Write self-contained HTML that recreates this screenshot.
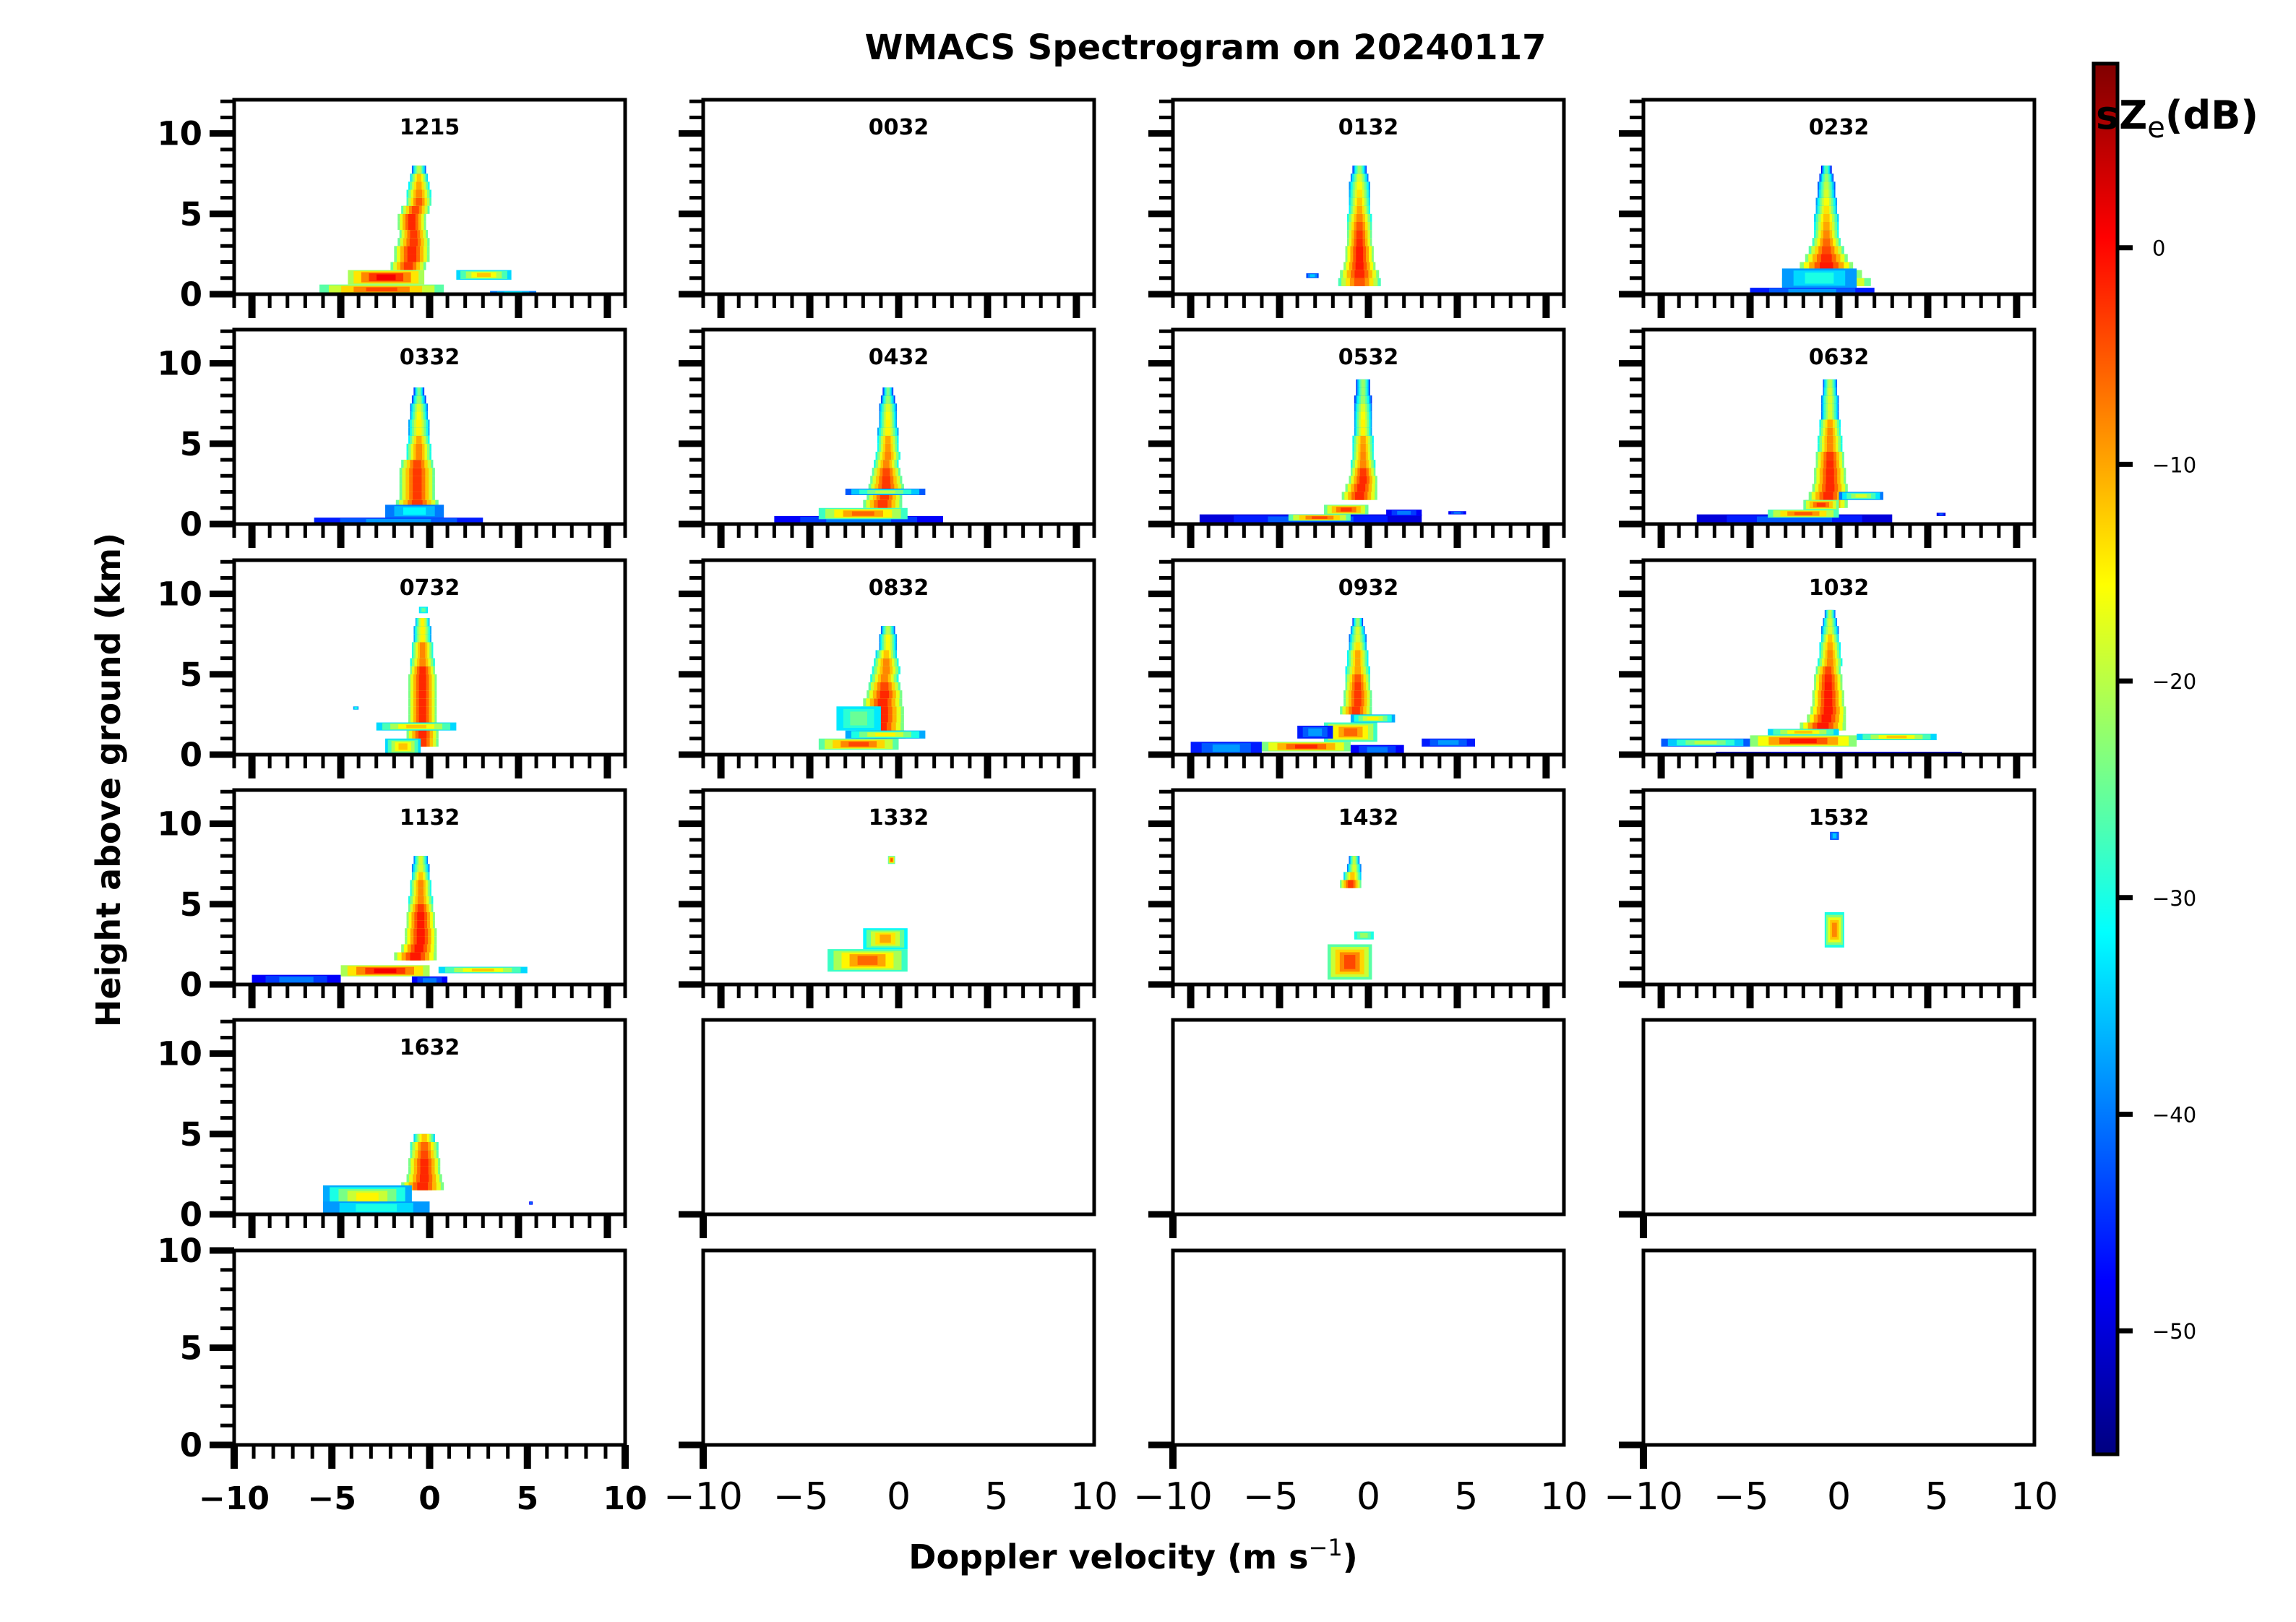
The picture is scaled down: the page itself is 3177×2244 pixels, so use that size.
<!DOCTYPE html>
<html><head><meta charset="utf-8"><style>
html,body{margin:0;padding:0;background:#fff;}
svg{display:block;font-family:"DejaVu Sans","Liberation Sans",sans-serif;}
</style></head><body>
<svg id="fig" xmlns="http://www.w3.org/2000/svg" width="3177" height="2244" viewBox="0 0 3177 2244">
<rect width="3177" height="2244" fill="#fff"/>
<text x="1668" y="82" text-anchor="middle" font-size="48" font-weight="bold">WMACS Spectrogram on 20240117</text>
<text transform="translate(166,1079) rotate(-90)" text-anchor="middle" font-size="46" font-weight="bold">Height above ground (km)</text>
<text x="1568" y="2170" text-anchor="middle" font-size="46" font-weight="bold">Doppler velocity (m s<tspan dy="-18" font-size="32" font-weight="normal">−1</tspan><tspan dy="18">)</tspan></text>
<g id="panels"></g>
<g id="cbar"></g>
</svg>
<script>
// ---- data ----
const panelTitles = ["1215","0032","0132","0232","0332","0432","0532","0632","0732","0832","0932","1032","1132","1332","1432","1532","1632"];
// column cells: [height_km, velocity, width, peak_dB]
const columns = [
 [[1.5,-1.2,1.0,-3],[2,-1.0,1.0,-2],[2.5,-1.0,1.0,-2],[3,-0.9,0.9,-3],[3.5,-0.9,0.8,-3],[4,-1.0,0.8,-2],[4.5,-1.0,0.8,-2],[5,-0.8,0.8,-4],[5.5,-0.6,0.7,-5],[6,-0.6,0.7,-8],[6.5,-0.6,0.6,-10],[7,-0.6,0.5,-12],[7.5,-0.6,0.4,-20]],
 [],
 [[0.5,-0.5,1.2,-5],[1,-0.5,1.1,-2],[1.5,-0.5,0.9,-1],[2,-0.5,0.8,-1],[2.5,-0.5,0.8,-1],[3,-0.5,0.7,-2],[3.5,-0.5,0.7,-3],[4,-0.5,0.7,-5],[4.5,-0.5,0.7,-8],[5,-0.5,0.6,-10],[5.5,-0.5,0.6,-12],[6,-0.5,0.6,-14],[6.5,-0.5,0.6,-16],[7,-0.5,0.5,-18],[7.5,-0.5,0.4,-22]],
 [[0.5,-0.7,2.5,-3],[1,-0.7,2.0,-1],[1.5,-0.7,1.5,-1],[2,-0.7,1.2,-2],[2.5,-0.7,1.0,-4],[3,-0.7,0.8,-6],[3.5,-0.7,0.7,-8],[4,-0.7,0.7,-10],[4.5,-0.7,0.7,-12],[5,-0.7,0.6,-14],[5.5,-0.7,0.6,-16],[6,-0.7,0.5,-18],[6.5,-0.7,0.5,-20],[7,-0.7,0.4,-22],[7.5,-0.7,0.3,-26]],
 [[0.5,-0.7,1.4,-3],[1,-0.7,1.2,-3],[1.5,-0.7,1.0,-3],[2,-0.7,1.0,-3],[2.5,-0.7,1.0,-3],[3,-0.7,1.0,-3],[3.5,-0.7,0.9,-4],[4,-0.6,0.7,-8],[4.5,-0.6,0.7,-8],[5,-0.6,0.6,-10],[5.5,-0.6,0.6,-15],[6,-0.6,0.6,-15],[6.5,-0.6,0.5,-16],[7,-0.6,0.5,-18],[7.5,-0.6,0.4,-22],[8,-0.6,0.3,-24]],
 [[1,-0.9,1.1,-3],[1.5,-0.8,1.0,-3],[2,-0.7,1.0,-3],[2.5,-0.7,0.9,-3],[3,-0.7,0.8,-4],[3.5,-0.7,0.7,-8],[4,-0.6,0.7,-8],[4.5,-0.6,0.6,-9],[5,-0.6,0.6,-10],[5.5,-0.6,0.6,-15],[6,-0.6,0.5,-15],[6.5,-0.6,0.5,-16],[7,-0.6,0.5,-18],[7.5,-0.6,0.4,-22],[8,-0.6,0.3,-24]],
 [[1.5,-0.5,1.0,-2],[2,-0.4,0.9,-2],[2.5,-0.3,0.8,-2],[3,-0.3,0.7,-3],[3.5,-0.3,0.7,-8],[4,-0.3,0.6,-8],[4.5,-0.3,0.6,-9],[5,-0.3,0.6,-10],[5.5,-0.3,0.5,-15],[6,-0.3,0.5,-15],[6.5,-0.3,0.5,-16],[7,-0.3,0.5,-18],[7.5,-0.3,0.5,-22],[8,-0.3,0.4,-22],[8.5,-0.3,0.4,-22]],
 [[1,-0.7,1.2,-2],[1.5,-0.6,1.1,-2],[2,-0.5,1.0,-2],[2.5,-0.5,0.9,-2],[3,-0.5,0.9,-2],[3.5,-0.5,0.8,-2],[4,-0.5,0.8,-3],[4.5,-0.5,0.7,-8],[5,-0.5,0.7,-8],[5.5,-0.5,0.6,-8],[6,-0.5,0.6,-10],[6.5,-0.5,0.5,-18],[7,-0.5,0.5,-18],[7.5,-0.5,0.5,-18],[8,-0.5,0.4,-18],[8.5,-0.5,0.4,-20]],
 [[0.5,-0.4,0.9,-3],[1,-0.4,0.9,-2],[1.5,-0.4,0.9,-2],[2,-0.4,0.8,-2],[2.5,-0.4,0.8,-2],[3,-0.4,0.8,-2],[3.5,-0.4,0.8,-2],[4,-0.4,0.8,-2],[4.5,-0.4,0.8,-2],[5,-0.4,0.7,-2],[5.5,-0.4,0.7,-8],[6,-0.4,0.6,-8],[6.5,-0.4,0.6,-8],[7,-0.4,0.5,-15],[7.5,-0.4,0.5,-15],[8,-0.4,0.4,-15]],
 [[1,-1.0,1.4,-2],[1.5,-1.0,1.3,-2],[2,-0.9,1.2,-2],[2.5,-0.9,1.2,-2],[3,-0.9,1.1,-2],[3.5,-0.8,1.0,-2],[4,-0.8,0.9,-4],[4.5,-0.8,0.8,-8],[5,-0.7,0.8,-8],[5.5,-0.7,0.7,-8],[6,-0.7,0.6,-12],[6.5,-0.6,0.5,-16],[7,-0.6,0.5,-16],[7.5,-0.6,0.4,-20]],
 [[2.5,-0.7,0.9,-3],[3,-0.6,0.8,-3],[3.5,-0.6,0.8,-3],[4,-0.6,0.7,-3],[4.5,-0.6,0.7,-5],[5,-0.6,0.7,-10],[5.5,-0.6,0.6,-10],[6,-0.6,0.6,-10],[6.5,-0.6,0.5,-14],[7,-0.6,0.5,-18],[7.5,-0.6,0.4,-18],[8,-0.6,0.3,-22]],
 [[1.5,-0.9,1.3,-1],[2,-0.7,1.1,-1],[2.5,-0.6,1.0,-1],[3,-0.6,0.9,-1],[3.5,-0.6,0.9,-1],[4,-0.6,0.8,-1],[4.5,-0.6,0.8,-2],[5,-0.6,0.7,-4],[5.5,-0.5,0.7,-8],[6,-0.5,0.6,-8],[6.5,-0.5,0.6,-10],[7,-0.5,0.5,-12],[7.5,-0.5,0.5,-18],[8,-0.5,0.4,-18],[8.5,-0.5,0.3,-20]],
 [[1.5,-0.8,1.2,-1],[2,-0.6,1.0,-1],[2.5,-0.5,0.9,-1],[3,-0.5,0.9,-1],[3.5,-0.5,0.8,-1],[4,-0.5,0.8,-1],[4.5,-0.5,0.7,-3],[5,-0.5,0.7,-8],[5.5,-0.5,0.6,-8],[6,-0.5,0.6,-8],[6.5,-0.5,0.5,-12],[7,-0.5,0.5,-18],[7.5,-0.5,0.4,-18]],
 [],
 [[6,-1.0,0.6,-3],[6.5,-0.9,0.5,-12],[7,-0.8,0.4,-18],[7.5,-0.8,0.3,-20]],
 [],
 [[1.5,-0.4,1.2,-2],[2,-0.3,1.0,-2],[2.5,-0.3,0.9,-2],[3,-0.3,0.9,-2],[3.5,-0.3,0.8,-4],[4,-0.3,0.8,-6],[4.5,-0.3,0.6,-12]]
];
// bands: [h0, h1, v0, v1, peak_dB]
const bands = [
 [[0,0.6,-6.2,0.8,-4],[0.6,1.5,-4.6,-0.3,1],[0.9,1.5,1.5,4.6,-12],[0,0.2,3.4,6,-32]],
 [],
 [[1.0,1.3,-3.5,-2.8,-35]],
 [[0,0.4,-5,2,-38],[0.4,1.6,-3.2,1.0,-30]],
 [[0,0.4,-6.5,3,-38],[0.4,1.2,-2.5,0.8,-32]],
 [[0,0.5,-7,2.5,-40],[0.3,1,-4.5,0.5,-6],[1.8,2.2,-3,1.5,-20]],
 [[0,0.6,-9.5,3,-42],[0.2,0.6,-4.5,-1,-4],[0.6,1.2,-2.5,0,-3],[0.5,0.9,1,3,-40],[0.6,0.8,4.5,5.5,-40]],
 [[0,0.6,-8,3,-42],[0.4,0.9,-4,0,-5],[0.9,1.5,-2,0,-3],[1.5,2,0,2.5,-18],[0.5,0.7,5.5,6,-42]],
 [[0,1,-2.5,-0.5,-12],[1.5,2,-3,1.5,-12],[8.8,9.2,-0.6,-0.1,-25],[2.8,3,-4.3,-4,-30]],
 [[0.3,1,-4.5,0,-4],[1,1.5,-3,1.5,-15],[1.5,3,-3.5,-1,-25]],
 [[0,0.8,-10,-6,-38],[0.2,0.8,-6,-1,-2],[0.8,2,-2.5,0.5,-6],[0,0.6,-1,2,-40],[0.5,1,3,6,-38],[1,1.8,-4,-2,-38],[2,2.5,-1,1.5,-15]],
 [[0.5,1,-10,-5,-20],[0.5,1.2,-5,1,-1],[0.9,1.3,1,5.5,-12],[1.2,1.6,-4,0,-12],[0,0.2,-10,10,-48]],
 [[0,0.6,-10,-5,-40],[0.5,1.2,-5,0,1],[0.7,1.1,0.5,5.5,-12],[0,0.5,-1,1,-40]],
 [[7.5,8,-0.6,-0.2,-5],[0.8,2.2,-4,0.5,-6],[2.2,3.5,-2,0.5,-10]],
 [[0.3,2.5,-2.3,0.2,-4],[2.8,3.3,-0.8,0.3,-22]],
 [[2.3,4.5,-0.8,0.3,-8],[9,9.5,-0.5,0,-35]],
 [[0.3,1.8,-6,-1,-15],[0,0.8,-6,0,-30],[0.6,0.8,5.6,5.8,-40]]
];
const cbarTicks = [0,-10,-20,-30,-40,-50];
const xTickLabels = ["−10","−5","0","5","10"];
const yTickLabels = ["0","5","10"];
const cMin = -55.7, cMax = 8.5;

// ---- helpers ----
const NS = "http://www.w3.org/2000/svg";
function mk(tag, attrs, parent){ const e=document.createElementNS(NS,tag); for(const k in attrs) e.setAttribute(k,attrs[k]); parent.appendChild(e); return e; }
function clamp(v){ return Math.max(0,Math.min(1,v)); }
function jet(db){
  const t = clamp((db-cMin)/(cMax-cMin));
  const r=clamp(1.5-Math.abs(4*t-3)), g=clamp(1.5-Math.abs(4*t-2)), b=clamp(1.5-Math.abs(4*t-1));
  return `rgb(${Math.round(r*255)},${Math.round(g*255)},${Math.round(b*255)})`;
}
const colLeft=[324,973,1623,2274], PW=541, PH=269;
const rowTop=[138,456,775,1093,1411,1730];
const layerOff=[-22,-15,-9,-4,0], layerW=[1,0.85,0.65,0.45,0.25], layerH=[1,0.85,0.7,0.55,0.4];

const panelsG=document.getElementById('panels');
for(let r=0;r<6;r++){
  for(let c=0;c<4;c++){
    const idx=r*4+c;
    const hasData = idx<17;
    const x0=colLeft[c], y0=rowTop[r];
    const xl = (r<5 && hasData)?11:10;
    const yTop = r===5?10:12.1;
    const X=v=>x0+(v+xl)/(2*xl)*PW;
    const Y=h=>y0+PH-h/yTop*PH;
    const g=mk('g',{},panelsG);
    
    
    if(hasData){
      columns[idx].forEach(cell=>{
        const [h,v,w,p]=cell;
        layerOff.forEach((o,k)=>{
          const val=p+o; if(val<cMin) return;
          const hw=w*layerW[k];
          const rc=mk('rect',{x:X(v-hw),y:Y(h+0.5),width:X(v+hw)-X(v-hw),height:Y(h)-Y(h+0.5),fill:jet(val)},g);
          
          
        });
      });
      bands[idx].forEach(b=>{
        const [h0,h1,v0,v1,p]=b;
        const vc=(v0+v1)/2, hc=(h0+h1)/2;
        const offs = p< -20 ? [-8,-4,0] : layerOff;
        offs.forEach((o,k)=>{
          const val=p+o; if(val<cMin) return;
          const kk = p< -20 ? k+2 : k;
          const hw=(v1-v0)/2*layerW[kk]/layerW[p< -20?2:0], hh=(h1-h0)/2*layerH[kk]/layerH[p< -20?2:0];
          const rc=mk('rect',{x:X(vc-hw),y:Y(hc+hh),width:X(vc+hw)-X(vc-hw),height:Y(hc-hh)-Y(hc+hh),fill:jet(val)},g);
          
          
        });
      });
      const t=mk('text',{x:x0+PW/2,y:y0+48,'text-anchor':'middle','font-size':30,'font-weight':'bold'},g);
      t.textContent=panelTitles[idx];
      
      
    }
    const fr=mk('rect',{x:x0,y:y0,width:PW,height:PH,fill:'none',stroke:'#000','stroke-width':5},g);
    
    
    const full = hasData || (r===5 && c===0);
    if(full){
      const ymax = r===5?10:12;
      for(let h=0;h<=ymax;h++){
        const major=h%5===0;
        mk('line',{x1:x0,x2:x0-(major?34:19),y1:Y(h),y2:Y(h),stroke:'#000','stroke-width':major?9:5},g);
      }
    } else {
      mk('line',{x1:x0,x2:x0-34,y1:Y(0),y2:Y(0),stroke:'#000','stroke-width':9},g);
    }
    if(c===0){
      [0,5,10].forEach((h,i)=>{
        const t=mk('text',{x:x0-44,y:Y(h)+16,'text-anchor':'end','font-size':45,'font-weight':'bold'},g);
        t.textContent=yTickLabels[i];
        
        
      });
    }
    if(full){
      for(let v=-xl;v<=xl;v++){
        const major=v%5===0;
        mk('line',{x1:X(v),x2:X(v),y1:y0+PH,y2:y0+PH+(major?33:19),stroke:'#000','stroke-width':major?10:5},g);
      }
    } else {
      mk('line',{x1:x0,x2:x0,y1:y0+PH,y2:y0+PH+33,stroke:'#000','stroke-width':10},g);
    }
    if(r===5){
      [-10,-5,0,5,10].forEach((v,i)=>{
        const t=mk('text',{x:X(v),y:2088,'text-anchor':'middle','font-size':c===0?44:52,'font-weight':c===0?'bold':'normal'},g);
        t.textContent=xTickLabels[i];
        
        
      });
    }
  }
}
// colorbar
const cb=document.getElementById('cbar');
const defs=mk('defs',{},cb);
const grad=mk('linearGradient',{id:'jetg',x1:0,y1:1,x2:0,y2:0},defs);
for(let i=0;i<=40;i++){ mk('stop',{offset:i/40,'stop-color':jet(cMin+(cMax-cMin)*i/40)},grad); }
const CT=88, CB=2012, CX=2897, CW=33;
const CY=d=>CB-(d-cMin)/(cMax-cMin)*(CB-CT);
const bar=mk('rect',{x:CX,y:CT,width:CW,height:CB-CT,fill:'url(#jetg)',stroke:'#000','stroke-width':5},cb);


cbarTicks.forEach(d=>{
  mk('line',{x1:CX+CW,x2:CX+CW+21,y1:CY(d),y2:CY(d),stroke:'#000','stroke-width':7},cb);
  const t=mk('text',{x:2978,y:CY(d)+11,'font-size':29},cb);
  t.textContent=d<0?'−'+(-d):String(d);
  
  
});
const lab=mk('text',{x:2900,y:178,'font-size':54,'font-weight':'bold'},cb);
lab.innerHTML='sZ<tspan font-weight="normal" font-size="40" dy="12">e</tspan><tspan dy="-12">(dB)</tspan>';


</script>
</body></html>
